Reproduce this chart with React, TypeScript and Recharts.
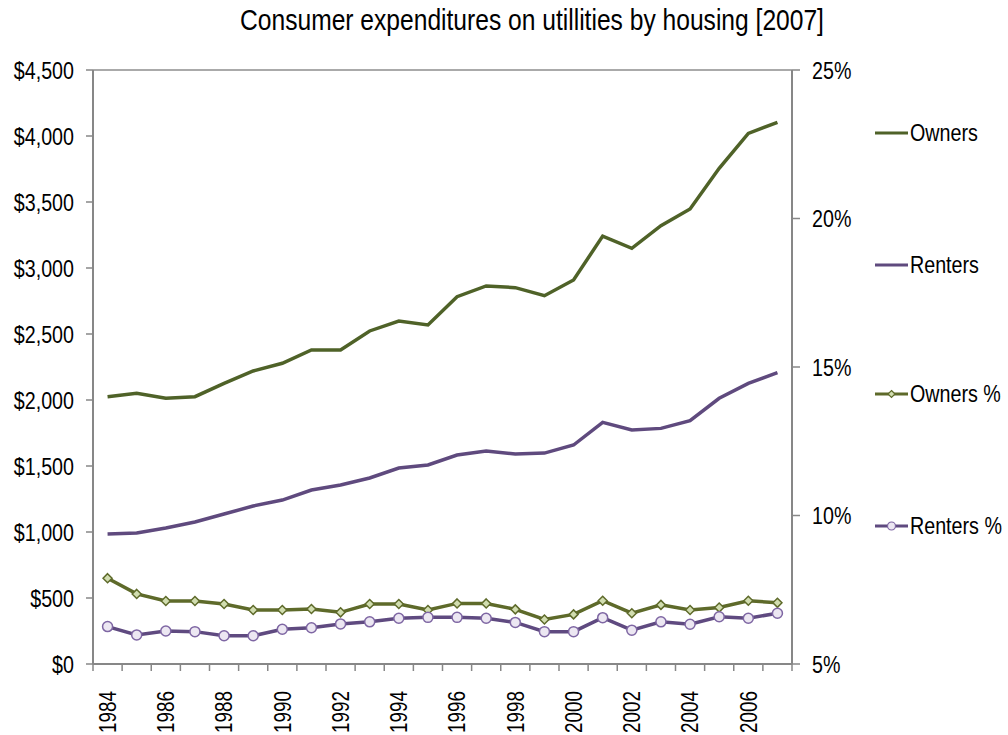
import React from "react";
import { LineChart, Line, XAxis, YAxis, CartesianGrid } from "recharts";

const years = [1984,1985,1986,1987,1988,1989,1990,1991,1992,1993,1994,1995,1996,1997,1998,1999,2000,2001,2002,2003,2004,2005,2006,2007];
const owners = [2025,2051,2013,2025,2126,2220,2278,2379,2379,2523,2598,2568,2783,2864,2851,2790,2909,3242,3149,3321,3447,3755,4020,4103];
const renters = [985,992,1030,1076,1136,1197,1242,1318,1356,1409,1485,1508,1583,1614,1591,1598,1659,1831,1773,1785,1843,2013,2126,2207];
const ownersPct = [7.89,7.36,7.12,7.12,7.02,6.82,6.82,6.85,6.74,7.02,7.02,6.82,7.04,7.04,6.84,6.5,6.67,7.13,6.71,6.99,6.82,6.9,7.13,7.06];
const rentersPct = [6.26,5.98,6.11,6.09,5.95,5.95,6.17,6.22,6.35,6.42,6.54,6.57,6.57,6.54,6.4,6.09,6.09,6.56,6.14,6.42,6.34,6.59,6.54,6.71];
const dollarTicks = [0,500,1000,1500,2000,2500,3000,3500,4000,4500];
const pctTicks = [5,10,15,20,25];

const data = years.map((y, i) => ({
  year: String(y),
  owners: owners[i],
  renters: renters[i],
  ownersPct: ownersPct[i],
  rentersPct: rentersPct[i],
}));

const FONT = "'Liberation Sans', Arial, sans-serif";
const SX = 0.82;
const FS = 24;
const C_OWN = "#4F6228";
const C_REN = "#5F4A7E";
const C_OWNP = "#5E6A2A";
const C_RENP = "#5F4A80";
const AXIS = "#878787";
const PLOT_W = 699;
const BAND = PLOT_W / years.length;

const Diamond = (props: any) => {
  const { cx, cy, index } = props;
  if (cx == null || cy == null) return <g key={`d${index}`} />;
  const s = 4.5;
  return (
    <polygon
      key={`d${index}`}
      points={`${cx},${cy - s} ${cx + s},${cy} ${cx},${cy + s} ${cx - s},${cy}`}
      fill="#D1DDB0"
      stroke={C_OWNP}
      strokeWidth={1.5}
    />
  );
};

const Circle = (props: any) => {
  const { cx, cy, index } = props;
  if (cx == null || cy == null) return <g key={`c${index}`} />;
  return <circle key={`c${index}`} cx={cx} cy={cy} r={5} fill="#ECE7F2" stroke="#7E66A3" strokeWidth={1.5} />;
};

const XTick = (props: any) => {
  const { x, y, payload, index } = props;
  const last = index === years.length - 1;
  const ty = y + 27;
  return (
    <g>
      <line x1={x - BAND / 2} x2={x - BAND / 2} y1={y} y2={y + 7} stroke={AXIS} strokeWidth={1.5} />
      {last && <line x1={x + BAND / 2} x2={x + BAND / 2} y1={y} y2={y + 7} stroke={AXIS} strokeWidth={1.5} />}
      {index % 2 === 0 && (
        <text
          transform={`translate(${x} ${ty}) rotate(-90) scale(${SX} 1)`}
          x={0}
          y={0}
          textAnchor="end"
          dy="0.36em"
          fontFamily={FONT}
          fontSize={23}
          fill="#000"
        >
          {payload.value}
        </text>
      )}
    </g>
  );
};

const YTick = (props: any) => {
  const { x, y, payload, textAnchor, fmt } = props;
  return (
    <text
      transform={`translate(${x} ${y}) scale(${SX} 1)`}
      x={0}
      y={0}
      textAnchor={textAnchor}
      dy="0.36em"
      fontFamily={FONT}
      fontSize={FS}
      fill="#000"
    >
      {fmt(payload.value)}
    </text>
  );
};

const legendItems = [
  { name: "Owners", color: C_OWN, marker: "none" },
  { name: "Renters", color: C_REN, marker: "none" },
  { name: "Owners %", color: C_OWNP, marker: "diamond" },
  { name: "Renters %", color: C_RENP, marker: "circle" },
];
const legendTops = [118, 250, 379, 511];

const ChartLegend = () => (
  <div style={{ fontFamily: FONT, fontSize: FS, color: "#000" }}>
    {legendItems.map((it, i) => (
      <div
        key={it.name}
        style={{ position: "absolute", left: 874, top: legendTops[i], height: 30, display: "flex", alignItems: "center", whiteSpace: "nowrap" }}
      >
        <svg width={36} height={14} style={{ display: "block" }}>
          <line x1={1} x2={34} y1={7} y2={7} stroke={it.color} strokeWidth={3} />
          {it.marker === "diamond" && (
            <polygon points="17.5,3.5 21,7 17.5,10.5 14,7" fill="#D1DDB0" stroke={it.color} strokeWidth={1.2} />
          )}
          {it.marker === "circle" && <circle cx={17.5} cy={7} r={4} fill="#ECE7F2" stroke="#7E66A3" strokeWidth={1.2} />}
        </svg>
        <span style={{ display: "inline-block", transform: `scaleX(${SX})`, transformOrigin: "0 50%" }}>{it.name}</span>
      </div>
    ))}
  </div>
);

export default function App() {
  return (
    <div style={{ position: "absolute", left: 0, top: 0, width: 1008, height: 735, background: "#fff", overflow: "hidden" }}>
      <div
        style={{
          position: "absolute",
          left: 28,
          width: 1008,
          top: 3,
          textAlign: "center",
          fontFamily: FONT,
          fontSize: 30,
          color: "#000",
          transform: `scaleX(${SX})`,
          transformOrigin: "50% 50%",
          whiteSpace: "nowrap",
        }}
      >
        Consumer expenditures on utillities by housing [2007]
      </div>
      <LineChart width={1008} height={735} data={data} margin={{ top: 70, right: 156, bottom: 0, left: 0 }}>
        <CartesianGrid vertical={false} stroke="#8E8E8E" strokeWidth={1.5} />
        <XAxis
          dataKey="year"
          interval={0}
          height={71}
          padding={{ left: BAND / 2, right: BAND / 2 }}
          tickSize={0}
          tickMargin={0}
          tickLine={false}
          tick={<XTick />}
          axisLine={{ stroke: AXIS, strokeWidth: 2 }}
        />
        <YAxis
          yAxisId="left"
          width={93}
          domain={[0, 4500]}
          ticks={dollarTicks}
          tickSize={7}
          tickMargin={12}
          tickLine={{ stroke: AXIS, strokeWidth: 1.5 }}
          axisLine={{ stroke: AXIS, strokeWidth: 2 }}
          tick={<YTick fmt={(v: number) => `$${v.toLocaleString("en-US")}`} />}
        />
        <YAxis
          yAxisId="right"
          orientation="right"
          width={60}
          domain={[5, 25]}
          ticks={pctTicks}
          tickSize={8}
          tickMargin={12}
          tickLine={{ stroke: AXIS, strokeWidth: 1.5 }}
          axisLine={{ stroke: AXIS, strokeWidth: 2 }}
          tick={<YTick fmt={(v: number) => `${v}%`} />}
        />
        <Line yAxisId="left" type="linear" dataKey="owners" name="Owners" stroke={C_OWN} strokeWidth={3.5} dot={false} isAnimationActive={false} />
        <Line yAxisId="left" type="linear" dataKey="renters" name="Renters" stroke={C_REN} strokeWidth={3.5} dot={false} isAnimationActive={false} />
        <Line yAxisId="right" type="linear" dataKey="ownersPct" name="Owners %" stroke={C_OWNP} strokeWidth={3.5} dot={<Diamond />} isAnimationActive={false} />
        <Line yAxisId="right" type="linear" dataKey="rentersPct" name="Renters %" stroke={C_RENP} strokeWidth={3.5} dot={<Circle />} isAnimationActive={false} />
      </LineChart>
      <ChartLegend />
    </div>
  );
}
